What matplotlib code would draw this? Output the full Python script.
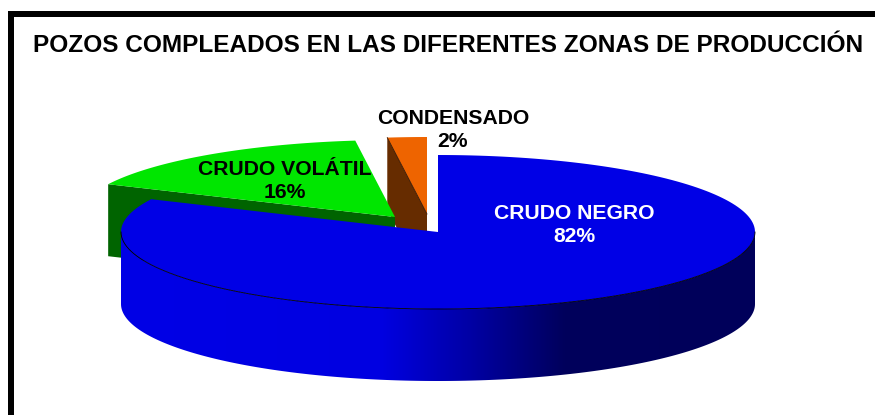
import matplotlib
matplotlib.use('Agg')
import matplotlib.pyplot as plt
import numpy as np
from matplotlib.patches import Polygon, Rectangle

titulo = 'POZOS COMPLEADOS EN LAS DIFERENTES ZONAS DE PRODUCCIÓN'
zonas = ['CRUDO NEGRO', 'CRUDO VOLÁTIL', 'CONDENSADO']
porcentajes = [82, 16, 2]

plt.rcParams['font.family'] = ['Liberation Sans', 'DejaVu Sans']

# pie geometry in pixels
cx, cy = 438, 232
a, b = 317, 77
depth = 72


def elipse(x0, y0, t1, t2, n=200):
    t = np.radians(np.linspace(t1, t2, n))
    return x0 + a * np.cos(t), y0 - b * np.sin(t)


fig = plt.figure(figsize=(8.75, 4.15), dpi=100)
ax = fig.add_axes([0, 0, 1, 1])
ax.set_xlim(0, 875)
ax.set_ylim(415, 0)
ax.axis('off')

# frame
ax.add_patch(Rectangle((8, 11), 867, 6, fc='black', ec='none'))
ax.add_patch(Rectangle((8, 11), 6, 404, fc='black', ec='none'))

# angles from the values, clockwise from the top
grados = np.array(porcentajes) / sum(porcentajes) * 360

# condensado
ox, oy = 427, 214
x, y = elipse(ox, oy, 90, 90 + grados[2])
ax.add_patch(Polygon([(x[-1], y[-1]), (ox, oy), (ox, oy + depth), (x[-1], y[-1] + depth)],
                     fc='#662c00', ec='none', zorder=2))
ax.add_patch(Polygon(list(zip(x, y)) + [(ox, oy)], fc='#ee6400', ec='none', zorder=3))
ax.plot([x[-1], ox], [y[-1], oy], color='#331500', lw=0.6, zorder=3)

# crudo volatil
gx, gy = 395, 217
x, y = elipse(gx, gy, 90 + grados[2], 90 + grados[2] + grados[1])
ax.add_patch(Polygon([(x[-1], y[-1]), (gx, gy), (gx, gy + depth), (x[-1], y[-1] + depth)],
                     fc='#006400', ec='none', zorder=4))
ax.add_patch(Polygon(list(zip(x, y)) + [(gx, gy)], fc='#00e600', ec='none', zorder=5))

# crudo negro, side wall with the shading
x1, y1 = elipse(cx, cy, 180, 360)
side = Polygon(list(zip(x1, y1)) + list(zip(x1[::-1], y1[::-1] + depth)),
               fc='none', ec='none', zorder=6)
ax.add_patch(side)
img = np.zeros((1, 256, 3))
img[0, :, 2] = np.interp(np.linspace(0, 1, 256), [0, 0.41, 0.55, 0.70, 1], [230, 225, 165, 92, 90]) / 255
im = ax.imshow(img, extent=(cx - a, cx + a, cy + b + depth, cy - b), aspect='auto', zorder=6)
im.set_clip_path(side)
ax.set_xlim(0, 875)
ax.set_ylim(415, 0)

x, y = elipse(cx, cy, 90 - grados[0], 90)
ax.add_patch(Polygon(list(zip(x, y)) + [(cx, cy)], fc='#0000e6', ec='none', zorder=7))
ax.plot(x1, y1, color='black', lw=0.6, zorder=8)

# labels
ax.text(448, 45, titulo, fontsize=17.6, fontweight='bold', ha='center', va='center')
ax.text(574, 225, f'{zonas[0]}\n{porcentajes[0]}%', color='white', fontsize=15.2, fontweight='bold',
        ha='center', va='center', linespacing=1.22, zorder=10)
ax.text(285, 181, f'{zonas[1]}\n{porcentajes[1]}%', color='black', fontsize=15.2, fontweight='bold',
        ha='center', va='center', linespacing=1.22, zorder=10)
ax.text(453, 130, f'{zonas[2]}\n{porcentajes[2]}%', color='black', fontsize=15.2, fontweight='bold',
        ha='center', va='center', linespacing=1.22, zorder=10)

fig.savefig('out.png', dpi=100)
